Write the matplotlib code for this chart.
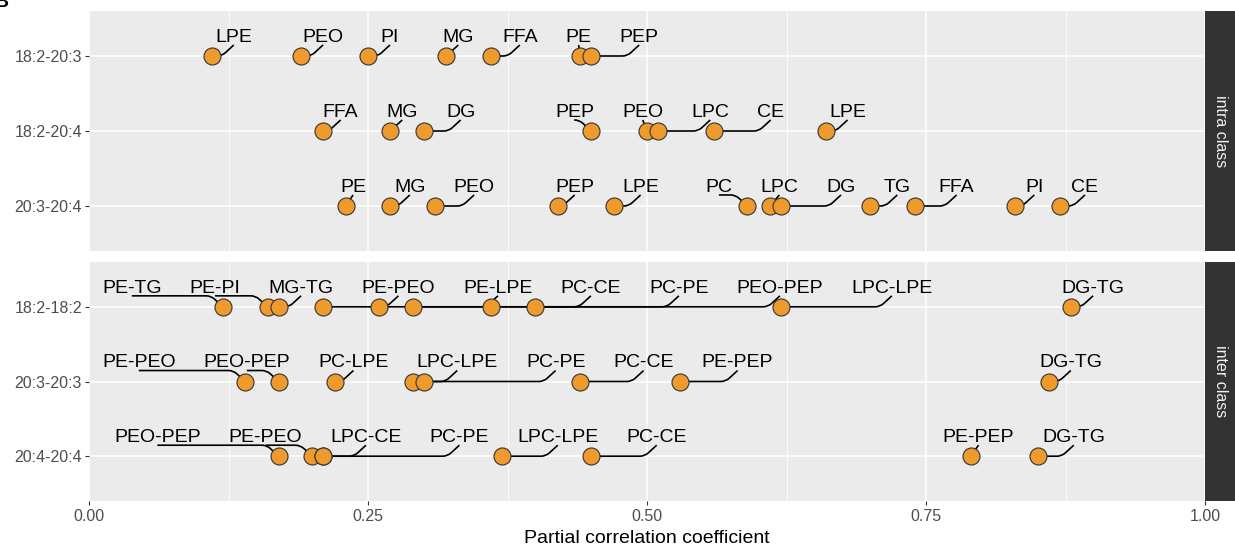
import numpy as np
import matplotlib
matplotlib.use('Agg')
import matplotlib.pyplot as plt
from matplotlib.path import Path
from matplotlib.patches import PathPatch, Rectangle

plt.rcParams['font.family'] = ['Liberation Sans', 'DejaVu Sans']

# ---- data (label order as it appears left to right in each row) ----
intra_rows = ['18:2-20:3', '18:2-20:4', '20:3-20:4']
intra_182_203_lab = ['LPE', 'PEO', 'PI', 'MG', 'FFA', 'PE', 'PEP']
intra_182_203_val = [0.11, 0.19, 0.25, 0.32, 0.36, 0.44, 0.45]
intra_182_204_lab = ['FFA', 'MG', 'DG', 'PEP', 'PEO', 'LPC', 'CE', 'LPE']
intra_182_204_val = [0.21, 0.27, 0.30, 0.45, 0.50, 0.51, 0.56, 0.66]
intra_203_204_lab = ['PE', 'MG', 'PEO', 'PEP', 'LPE', 'PC', 'LPC', 'DG', 'TG', 'FFA', 'PI', 'CE']
intra_203_204_val = [0.23, 0.27, 0.31, 0.42, 0.47, 0.59, 0.61, 0.62, 0.70, 0.74, 0.83, 0.87]

inter_rows = ['18:2-18:2', '20:3-20:3', '20:4-20:4']
inter_182_lab = ['PE-TG', 'PE-PI', 'MG-TG', 'PE-PEO', 'PE-LPE', 'PC-CE', 'PC-PE', 'PEO-PEP', 'LPC-LPE', 'DG-TG']
inter_182_val = [0.12, 0.16, 0.17, 0.21, 0.26, 0.40, 0.29, 0.36, 0.62, 0.88]
inter_203_lab = ['PE-PEO', 'PEO-PEP', 'PC-LPE', 'LPC-LPE', 'PC-PE', 'PC-CE', 'PE-PEP', 'DG-TG']
inter_203_val = [0.14, 0.17, 0.22, 0.29, 0.30, 0.44, 0.53, 0.86]
inter_204_lab = ['PEO-PEP', 'PE-PEO', 'LPC-CE', 'PC-PE', 'LPC-LPE', 'PC-CE', 'PE-PEP', 'DG-TG']
inter_204_val = [0.17, 0.20, 0.21, 0.21, 0.37, 0.45, 0.79, 0.85]

x_ticks = [0.0, 0.25, 0.5, 0.75, 1.0]
x_ticklabels = ['0.00', '0.25', '0.50', '0.75', '1.00']

pt_fill = '#EF9A2C'
panel_bg = '#EBEBEB'
strip_bg = '#333333'

W, H = 1235, 550
fig = plt.figure(figsize=(W / 100, H / 100), dpi=100)


def pav(t):
    # pool adjacent violators -> non-decreasing fit
    blocks = []
    for v in t:
        blocks.append([v, 1])
        while len(blocks) > 1 and blocks[-2][0] / blocks[-2][1] > blocks[-1][0] / blocks[-1][1]:
            s, c = blocks.pop()
            blocks[-1][0] += s
            blocks[-1][1] += c
    out = []
    for s, c in blocks:
        out += [s / c] * c
    return np.array(out)


def place(desired, halfw, gap, lo, hi):
    # 1-d label repel: least squares with min separation, keeps order
    sep = halfw[:-1] + halfw[1:] + gap
    C = np.concatenate([[0.0], np.cumsum(sep)])
    q = pav(np.asarray(desired) - C)
    q = np.clip(q, lo + halfw[0], hi - halfw[-1] - C[-1])
    return q + C


def connector(ax, px, py, lx, ly, k):
    if lx >= px:
        A, B = (px, py), (lx, ly)
    else:
        A, B = (lx, ly), (px, py)
    if B[0] - A[0] <= k:
        verts = [A, B]
        codes = [Path.MOVETO, Path.LINETO]
    else:
        r = 0.4 * k
        f = 0.3
        verts = [A, (B[0] - k - r, A[1]), (B[0] - k, A[1]),
                 (B[0] - k + f * k, A[1] + f * (B[1] - A[1])), B]
        codes = [Path.MOVETO, Path.LINETO, Path.CURVE3, Path.CURVE3, Path.LINETO]
    ax.add_patch(PathPatch(Path(verts, codes), fill=False, edgecolor='black',
                           lw=1.2, zorder=2, capstyle='butt'))


def draw_panel(ax, rows, labs, vals, strip_text, show_x):
    ax.set_facecolor(panel_bg)
    for s in ax.spines.values():
        s.set_visible(False)
    ax.set_xlim(0, 1)
    ax.set_ylim(0.4, len(rows) + 0.6)
    ax.set_yticks(range(len(rows), 0, -1))
    ax.set_yticklabels(rows)
    ax.set_xticks(x_ticks)
    ax.set_xticks(np.arange(0.125, 1.0, 0.25), minor=True)
    ax.grid(which='major', color='white', lw=1.1, zorder=0)
    ax.grid(which='minor', axis='x', color='white', lw=0.6, zorder=0)
    ax.set_axisbelow(True)
    ax.tick_params(axis='y', length=3, width=0.8, color='#333333',
                   labelcolor='#4D4D4D', labelsize=11.5, pad=2)
    ax.tick_params(which='minor', length=0)
    if show_x:
        ax.set_xticklabels(x_ticklabels)
        ax.tick_params(axis='x', length=3, width=0.8, color='#333333',
                       labelcolor='#4D4D4D', labelsize=11.5, pad=3)
    else:
        ax.tick_params(axis='x', length=0, labelbottom=False)

    renderer = fig.canvas.get_renderer()
    pxw = ax.bbox.width  # pixels per x data unit
    nudge = 22 / pxw
    gap = 28 / pxw
    pad = 13 / pxw
    k = 12 / pxw
    for i, (lab, val) in enumerate(zip(labs, vals)):
        yrow = len(rows) - i
        ax.scatter(val, [yrow] * len(val), s=150, c=pt_fill, edgecolors='#333333',
                   linewidths=0.8, zorder=3)
        texts = [ax.text(v, yrow + 0.19, t, ha='center', va='baseline',
                         fontsize=14, color='black', zorder=4)
                 for t, v in zip(lab, val)]
        halfw = np.array([t.get_window_extent(renderer).width / 2 / pxw for t in texts])
        pos = place(np.array(val) + nudge, halfw, gap, pad, 1 - pad)
        for t, p, v in zip(texts, pos, val):
            t.set_x(p)
            connector(ax, v, yrow, p, yrow + 0.147, k)

    # facet strip on the right
    bb = ax.get_position()
    fig.patches.append(Rectangle((bb.x1, bb.y0), 1 - bb.x1 + 0.01, bb.height,
                                 transform=fig.transFigure, facecolor=strip_bg,
                                 edgecolor='none', zorder=1))
    fig.text(bb.x1 + 15 / W, bb.y0 + bb.height / 2, strip_text, rotation=270,
             ha='center', va='center', color='#F2F2F2', fontsize=11.5)


ax_top = fig.add_axes([89 / W, 1 - 251 / H, 1116 / W, 240 / H])
ax_bot = fig.add_axes([89 / W, 1 - 501 / H, 1116 / W, 239 / H])

draw_panel(ax_top, intra_rows,
           [intra_182_203_lab, intra_182_204_lab, intra_203_204_lab],
           [intra_182_203_val, intra_182_204_val, intra_203_204_val],
           'intra class', False)
draw_panel(ax_bot, inter_rows,
           [inter_182_lab, inter_203_lab, inter_204_lab],
           [inter_182_val, inter_203_val, inter_204_val],
           'inter class', True)

ax_bot.set_xlabel('Partial correlation coefficient', fontsize=14, labelpad=4)

# panel tag, mostly cut off at the top-left corner
fig.text(-5 / W, 1 - 7 / H, 'B', fontsize=14, fontweight='bold', ha='left', va='baseline')

fig.savefig('out.png', dpi=100)
